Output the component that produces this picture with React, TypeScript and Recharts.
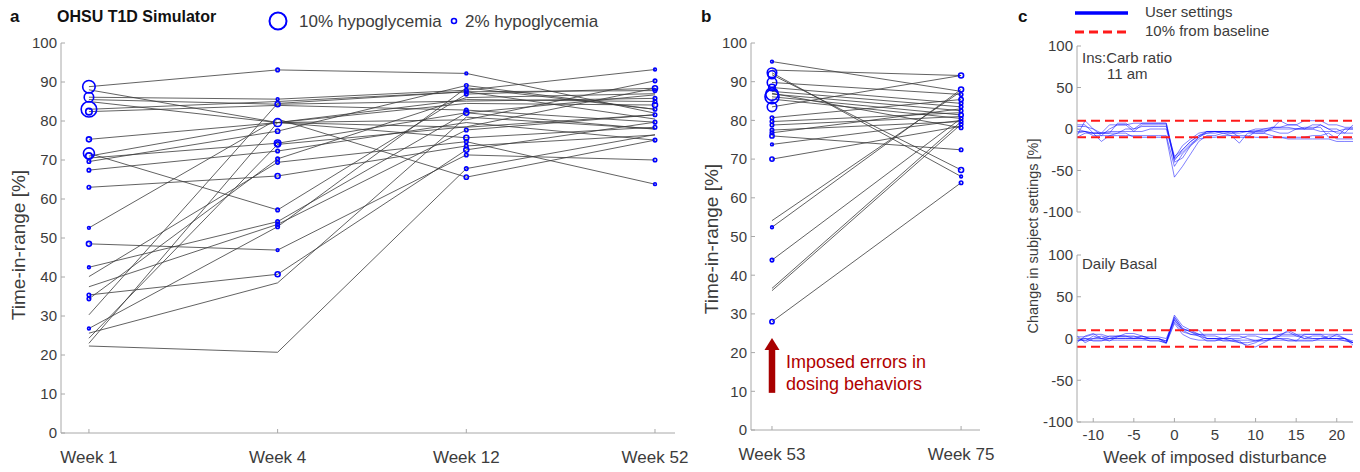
import React from 'react';
import { ComposedChart, LineChart, Line, Scatter, XAxis, YAxis, ReferenceLine, ReferenceDot } from 'recharts';

const FONT = '"Liberation Sans", Arial, Helvetica, sans-serif';
const AXIS_GRAY = '#a8a8a8';
const TEXT = '#3c3c3c';
const MARKER = '#0000ff';
const TRACE = '#3a3a3a';
const DARK_RED = '#a80000';

// panel a: time-in-range per subject at each week, with % hypoglycemia for marker size
const weeksA = ['Week 1', 'Week 4', 'Week 12', 'Week 52'];
const tirW1 = [88.8, 88.0, 86.1, 85.5, 85.0, 83.0, 82.4, 75.3, 71.7, 71.0, 70.5, 69.6, 67.4, 63.0, 52.6, 48.5, 42.5, 40.1, 37.5, 35.4, 34.4, 30.3, 26.8, 25.6, 23.0, 22.3, 24.3];
const hypoW1 = [7, 0, 5, 0, 0, 9, 3, 2, 6, 3, 0, 1, 1, 1, 0.5, 2, 0.5, 0, 0, 1, 1, 0, 0.5, 0, 0, 0, 0];
const tirW4 = [93.1, 79.6, 85.6, 84.3, 79.6, 85.0, 84.0, 79.6, 57.2, 79.6, 74.3, 77.4, 72.3, 65.9, 80.5, 46.9, 54.2, 69.4, 53.5, 40.7, 70.3, 84.5, 52.9, 38.5, 79.6, 20.7, 74.0];
const hypoW4 = [1, 0, 0.5, 2, 4, 0, 0, 0, 1, 0, 3, 1.5, 1, 2, 0, 0.5, 1, 1, 1, 2, 1, 0, 1, 0, 0, 0, 2];
const tirW12 = [92.2, 80.3, 87.9, 85.1, 78.4, 87.5, 82.8, 84.5, 86.9, 75.7, 82.1, 89.1, 79.6, 73.6, 65.6, 71.3, 82.1, 74.7, 77.7, 72.6, 86.0, 87.5, 88.5, 81.0, 85.5, 67.8, 78.5];
const hypoW12 = [0.5, 0, 1, 0, 0, 1, 1, 0, 1, 2, 0, 1, 0, 1, 1.5, 1, 2, 1, 1, 2, 0, 0, 0, 0, 0, 1, 0];
const tirW52 = [82.0, 90.3, 93.2, 85.8, 81.6, 87.8, 79.7, 84.1, 88.4, 78.4, 77.9, 83.0, 75.1, 76.4, 75.1, 70.0, 86.7, 63.8, 81.6, 79.7, 87.0, 80.5, 83.0, 78.0, 85.0, 76.5, 88.4];
const hypoW52 = [0, 1, 0.5, 1, 1, 1, 1, 2, 2, 1, 0, 1, 1, 0, 0, 1, 0, 0.5, 0, 0, 0, 0, 0, 0, 1, 0, 0];

// panel b
const weeksB = ['Week 53', 'Week 75'];
const tirW53 = [95.2, 93.0, 92.3, 91.8, 89.8, 88.5, 87.5, 86.8, 86.1, 85.5, 83.5, 80.7, 79.7, 78.8, 77.5, 76.8, 76.0, 73.8, 70.0, 54.1, 52.4, 43.9, 36.6, 36.0, 28.0, 87.0];
const hypoW53 = [0.5, 0, 5, 4, 5, 3, 0, 7, 8, 0, 5, 1, 1, 1, 1, 1, 1.5, 0.5, 1.5, 0, 0.5, 1, 0, 0, 1.5, 0];
const tirW75 = [87.5, 91.6, 65.5, 67.2, 86.7, 84.4, 83.5, 82.5, 81.4, 80.5, 91.6, 85.4, 82.0, 81.0, 79.7, 83.0, 72.4, 80.0, 78.5, 87.5, 88.0, 80.5, 79.7, 79.0, 63.9, 78.1];
const hypoW75 = [0, 2, 0.5, 2, 1, 1, 1, 1, 1.5, 1, 0, 1.5, 0, 0, 1, 0, 1, 0, 0, 0, 2, 0, 0, 1, 1, 1];

// panel c: % change in settings by week relative to imposed disturbance
const weeksC = [-12, -11, -10, -9, -8, -7, -6, -5, -4, -3, -2, -1, 0, 1, 2, 3, 4, 5, 6, 7, 8, 9, 10, 11, 12, 13, 14, 15, 16, 17, 18, 19, 20, 21, 22];
const icr1 = [-5, -3, -8, -8, 0, 5, 5, 7, 7, 7, 7, 7, -38, -25, -15, -8, -5, -5, -3, -5, -5, -3, 0, 0, 2, 2, 5, 5, 10, 10, 10, 5, 5, 2, 2];
const icr2 = [-8, 10, 0, -5, -5, 7, 7, 0, 7, 7, 7, 7, -35, -20, -12, -5, -3, -3, -3, -3, -10, -10, -3, 0, 0, 10, 5, 5, 0, 0, 5, 0, 0, -5, -5];
const icr3 = [0, -3, -5, -15, -8, -5, -5, -10, -10, -10, -10, -10, -58, -45, -30, -15, -8, -8, -5, -8, -17, -5, -5, -5, -8, -10, -12, -12, -12, -12, -12, -12, -15, -15, -15];
const icr4 = [-3, -3, -5, -5, 5, 5, 5, -3, 5, 5, 5, 5, -40, -35, -20, -10, -5, -3, -3, -3, -3, -3, -3, -3, 0, 0, 0, 0, 2, 2, 2, -10, -10, 0, 0];
const icr5 = [3, 3, 0, -8, -8, -8, -8, -8, -8, -8, -8, -8, -45, -30, -20, -12, -10, -10, -8, -8, -8, -8, -10, -10, -10, -10, -10, -10, -10, -8, -8, -5, -12, -12, -12];
const icr6 = [-10, -5, -5, -5, -3, -3, -3, -3, -3, 0, 0, 0, -36, -28, -18, -10, -3, -3, -3, -3, -3, -3, -5, -5, 2, 2, 2, 0, 0, 5, 5, 0, -5, -5, 5];
const icr7 = [5, 5, -5, -5, -5, -5, 0, 0, 3, 3, 3, 3, -33, -25, -15, -8, -3, -3, -5, -5, -3, -3, -2, -2, -2, -5, -5, 0, 0, 0, -3, -3, -3, 0, 0];
const basal1 = [0, -3, 3, 0, 0, 3, 3, 0, 0, 0, 0, -5, 25, 12, 8, 3, 0, 0, 0, 0, -5, -8, -5, 0, 0, 5, 8, 3, 3, 0, 0, 0, 0, -3, -5];
const basal2 = [-5, 3, 6, 0, -3, 2, 6, 6, 3, 0, 0, -3, 28, 15, 10, 5, 0, 0, 0, 3, 3, 0, -3, -3, 0, 3, 3, 3, 0, 3, 3, 0, 5, 0, -8];
const basal3 = [3, -5, 0, 3, 0, 0, 0, 0, 3, 0, 0, -3, 22, 10, 10, 10, 0, 0, -3, -3, -3, -10, -10, -5, 0, 0, -3, -3, 5, 5, 5, 0, 0, 0, -5];
const basal4 = [-3, 0, 0, 0, 3, 3, 3, 3, 0, 0, 0, -5, 20, 8, 5, 3, -3, -3, 0, 0, 0, 3, 3, 0, 0, 3, 10, 5, 0, 0, 0, 3, 3, 0, -3];
const basal5 = [0, 0, -3, -3, 0, 0, 0, 0, 0, -3, -3, -5, 26, 12, 8, 5, 3, 3, 0, -3, -5, -5, -3, 0, 0, 0, 0, -3, -3, -3, 0, 0, 0, 0, -5];
const basal6 = [2, 2, 5, 5, 2, 2, 2, 2, 2, 2, 2, 0, 23, 10, 5, 5, 5, 5, 5, 5, 5, 5, 5, 5, 5, 5, 5, 5, 5, 5, 5, 5, 5, 5, 5];
const basal7 = [-2, -2, -2, -2, -2, -2, -2, -2, -2, -2, -2, -6, 18, 5, 0, -2, -2, -2, -2, -2, -2, -2, -2, -2, -2, -2, -2, -2, -2, -2, -2, -2, -2, -2, -5];

const ticksTir = [0, 10, 20, 30, 40, 50, 60, 70, 80, 90, 100];
const ticksChange = [-100, -50, 0, 50, 100];
const ticksWeekC = [-10, -5, 0, 5, 10, 15, 20];

const icrSeries = [icr1, icr2, icr3, icr4, icr5, icr6, icr7];
const basalSeries = [basal1, basal2, basal3, basal4, basal5, basal6, basal7];

type Pt = { x: number; y: number; h: number };

function buildSubjects(tir: number[][], hypo: number[][]): Pt[][] {
  return tir[0].map((_, i) => tir.map((col, k) => ({ x: k, y: col[i], h: hypo[k][i] })));
}

const subjectsA = buildSubjects([tirW1, tirW4, tirW12, tirW52], [hypoW1, hypoW4, hypoW12, hypoW52]);
const subjectsB = buildSubjects([tirW53, tirW75], [hypoW53, hypoW75]);
const markersA = subjectsA.flat().filter((p) => p.h > 0);
const markersB = subjectsB.flat().filter((p) => p.h > 0);

function changeTable(series: number[][]) {
  return weeksC.map((w, i) => {
    const row: Record<string, number> = { w };
    series.forEach((s, k) => { row['s' + k] = s[i]; });
    return row;
  });
}
const icrRows = changeTable(icrSeries);
const basalRows = changeTable(basalSeries);

const hypoRadius = (h: number) => (h > 0 ? 1 + 0.75 * h : 0);

const HypoMarker = (props: any) => {
  const { cx, cy, payload } = props;
  const r = hypoRadius(payload?.h ?? 0);
  if (!r || cx == null || cy == null) return <g />;
  return <circle cx={cx} cy={cy} r={r} fill="none" stroke={MARKER} strokeWidth={1.6} />;
};

const tickStyle = (size: number) => ({ fill: TEXT, fontSize: size, fontFamily: FONT });

const ArrowHead = (props: any) => {
  const { cx, cy } = props;
  if (cx == null) return <g />;
  return <polygon points={`${cx},${cy} ${cx - 7.5},${cy + 12} ${cx + 7.5},${cy + 12}`} fill={DARK_RED} />;
};

function TirPanel(props: {
  left: number; width: number; yWidth: number; right: number; bottom: number;
  domain: [number, number]; labels: string[]; subjects: Pt[][]; markers: Pt[]; children?: React.ReactNode;
}) {
  const { left, width, yWidth, right, bottom, domain, labels, subjects, markers } = props;
  const xTicks = labels.map((_, i) => i);
  return (
    <div style={{ position: 'absolute', left, top: 0 }}>
      <ComposedChart width={width} height={472} margin={{ top: 43, right, bottom: 0, left: 0 }}>
        <XAxis type="number" dataKey="x" domain={domain} ticks={xTicks} allowDataOverflow interval={0}
          tickFormatter={(v: number) => labels[v] ?? ''} height={bottom} stroke={AXIS_GRAY}
          tick={tickStyle(17)} tickSize={-4} tickMargin={22} />
        <XAxis xAxisId="top" orientation="top" type="number" domain={domain} ticks={xTicks} allowDataOverflow
          height={0} tick={false} tickSize={-4} stroke={AXIS_GRAY} />
        <YAxis type="number" domain={[0, 100]} ticks={ticksTir} width={yWidth} stroke={AXIS_GRAY}
          tick={tickStyle(15)} tickSize={-4} tickMargin={8} interval={0} />
        <YAxis yAxisId="right" orientation="right" type="number" domain={[0, 100]} ticks={ticksTir} width={0}
          tick={false} tickSize={-4} stroke={AXIS_GRAY} />
        {subjects.map((s, i) => (
          <Line key={i} data={s} dataKey="y" type="linear" stroke={TRACE} strokeWidth={0.8}
            dot={false} activeDot={false} isAnimationActive={false} />
        ))}
        <Scatter data={markers} dataKey="y" shape={HypoMarker} isAnimationActive={false} />
        {props.children}
      </ComposedChart>
    </div>
  );
}

function ChangePanel(props: { top: number; height: number; marginTop: number; marginBottom: number; rows: any[]; showX: boolean; n: number }) {
  const { top, height, marginTop, marginBottom, rows, showX, n } = props;
  return (
    <div style={{ position: 'absolute', left: 1010, top }}>
      <LineChart width={350} height={height} data={rows} margin={{ top: marginTop, right: 7, bottom: marginBottom, left: 0 }}>
        <XAxis type="number" dataKey="w" domain={[-12, 22]} ticks={ticksWeekC} allowDataOverflow interval={0}
          height={showX ? 50 : 0} tick={showX ? tickStyle(15) : false} tickSize={-4} tickMargin={11} stroke={AXIS_GRAY} />
        <XAxis xAxisId="top" orientation="top" type="number" domain={[-12, 22]} ticks={ticksWeekC} allowDataOverflow
          height={0} tick={false} tickSize={-4} stroke={AXIS_GRAY} />
        <YAxis type="number" domain={[-100, 100]} ticks={ticksChange} width={67} interval={0}
          tick={tickStyle(15)} tickSize={-4} tickMargin={8} stroke={AXIS_GRAY} />
        <YAxis yAxisId="right" orientation="right" type="number" domain={[-100, 100]} ticks={ticksChange} width={0}
          tick={false} tickSize={-4} stroke={AXIS_GRAY} />
        {Array.from({ length: n }, (_, k) => (
          <Line key={k} dataKey={'s' + k} type="linear" stroke={MARKER} strokeOpacity={0.5} strokeWidth={1}
            dot={false} activeDot={false} isAnimationActive={false} />
        ))}
        <ReferenceLine y={10} stroke="#ff1a1a" strokeWidth={2} strokeDasharray="9 5" />
        <ReferenceLine y={-10} stroke="#ff1a1a" strokeWidth={2} strokeDasharray="9 5" />
      </LineChart>
    </div>
  );
}

export default function App() {
  return (
    <div style={{ position: 'absolute', left: 0, top: 0, width: 1360, height: 472, background: '#fff', fontFamily: FONT }}>
      <TirPanel left={0} width={700} yWidth={61} right={25} bottom={39} domain={[-0.148, 3.106]}
        labels={weeksA} subjects={subjectsA} markers={markersA} />
      <TirPanel left={700} width={330} yWidth={51} right={50} bottom={42} domain={[-0.111, 1.1]}
        labels={weeksB} subjects={subjectsB} markers={markersB}>
        <ReferenceLine segment={[{ x: 0, y: 9.6 }, { x: 0, y: 21.5 }]} stroke={DARK_RED} strokeWidth={6.5} />
        <ReferenceDot x={0} y={23.8} r={0} shape={ArrowHead} />
      </TirPanel>
      <ChangePanel top={0} height={225} marginTop={46} marginBottom={13} rows={icrRows} showX={false} n={icrSeries.length} />
      <ChangePanel top={230} height={242} marginTop={25} marginBottom={0} rows={basalRows} showX={true} n={basalSeries.length} />

      <svg width={1360} height={472} style={{ position: 'absolute', left: 0, top: 0, pointerEvents: 'none' }} fontFamily={FONT}>
        <text x={10} y={22} fontSize={17} fontWeight="bold" fill="#111">a</text>
        <text x={57} y={22} fontSize={16} fontWeight="bold" fill="#111">OHSU T1D Simulator</text>
        <circle cx={278} cy={21} r={8.5} fill="none" stroke={MARKER} strokeWidth={2} />
        <text x={299} y={27} fontSize={17} fill={TEXT}>10% hypoglycemia</text>
        <circle cx={454} cy={21} r={2.5} fill="none" stroke={MARKER} strokeWidth={1.6} />
        <text x={465} y={27} fontSize={17} fill={TEXT}>2% hypoglycemia</text>
        <text transform="translate(25,245) rotate(-90)" textAnchor="middle" fontSize={19} fill={TEXT}>Time-in-range [%]</text>

        <text x={701} y={22} fontSize={17} fontWeight="bold" fill="#111">b</text>
        <text transform="translate(718,239) rotate(-90)" textAnchor="middle" fontSize={19} fill={TEXT}>Time-in-range [%]</text>
        <text x={786} y={368} fontSize={18} fill="#b00000">Imposed errors in</text>
        <text x={786} y={390} fontSize={18} fill="#b00000">dosing behaviors</text>

        <text x={1018} y={22} fontSize={17} fontWeight="bold" fill="#111">c</text>
        <line x1={1075} y1={13} x2={1128} y2={13} stroke={MARKER} strokeWidth={3.5} />
        <line x1={1075} y1={32} x2={1128} y2={32} stroke="#ff1a1a" strokeWidth={3} strokeDasharray="9 5" />
        <text x={1145} y={17} fontSize={15} fill={TEXT}>User settings</text>
        <text x={1145} y={36} fontSize={15} fill={TEXT}>10% from baseline</text>
        <text x={1082} y={63} fontSize={15} fill={TEXT}>Ins:Carb ratio</text>
        <text x={1107} y={79} fontSize={15} fill={TEXT}>11 am</text>
        <text x={1082} y={269} fontSize={15} fill={TEXT}>Daily Basal</text>
        <text transform="translate(1038,236) rotate(-90)" textAnchor="middle" fontSize={14.5} fill={TEXT}>Change in subject settings [%]</text>
        <text x={1215} y={463} textAnchor="middle" fontSize={17} fill={TEXT}>Week of imposed disturbance</text>
      </svg>
    </div>
  );
}
